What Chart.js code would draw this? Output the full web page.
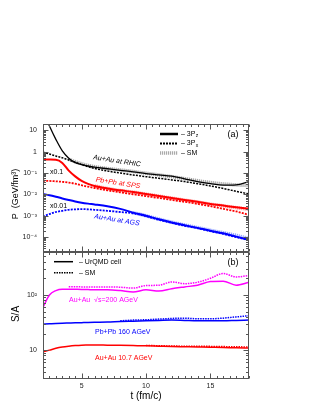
<!DOCTYPE html>
<html><head><meta charset="utf-8">
<script src="https://cdn.jsdelivr.net/npm/chart.js@4"></script>
<style>
html,body{margin:0;padding:0;background:#fff;}
#wrap{position:relative;width:316px;height:409px;overflow:hidden;background:#fff;}
#ca{position:absolute;left:0;top:0;}
#cb{position:absolute;left:0;top:248px;}
</style></head><body>
<div id="wrap"><canvas id="ca" width="316" height="256"></canvas><canvas id="cb" width="316" height="161"></canvas></div>
<script>
// ---- data: time axis (fm/c)
const T = [2,2.5,3,3.5,4,4.5,5,5.5,6,7,8,9,10,11,12,13,14,15,16,17,18];
// Panel (a): pressure, GeV/fm^3
const rhicPz = [80,16,3.8,1.1,0.5,0.31,0.25,0.215,0.19,0.16,0.135,0.115,0.095,0.082,0.072,0.054,0.04,0.032,0.027,0.028,0.04];
const rhicPx = [0.95,0.78,0.63,0.52,0.41,0.32,0.25,0.2,0.165,0.125,0.1,0.082,0.068,0.057,0.048,0.04,0.032,0.025,0.019,0.014,0.0105];
const rhicSM = [null,null,null,null,0.44,0.34,0.275,0.23,0.2,0.165,0.14,0.118,0.098,0.082,0.068,0.055,0.044,0.036,0.031,0.028,0.026];
const spsPz  = [0.44,0.43,0.42,0.3,0.13,0.07,0.043,0.031,0.025,0.019,0.0155,0.013,0.0105,0.0085,0.0068,0.0055,0.0045,0.0036,0.003,0.0025,0.0021];
const spsPx  = [0.044,0.043,0.041,0.039,0.036,0.032,0.027,0.023,0.02,0.0155,0.0125,0.0102,0.0083,0.0068,0.0055,0.0045,0.0036,0.0028,0.0021,0.0016,0.0011];
const spsSM  = [null,null,null,null,null,null,null,null,0.025,0.019,0.0152,0.0128,0.0103,0.0083,0.0067,0.0054,0.0044,0.0035,0.0029,0.0024,0.002];
const agsPz  = [0.0105,0.0092,0.0078,0.0065,0.0055,0.0047,0.0041,0.0037,0.0034,0.0028,0.0021,0.0014,0.001,0.00068,0.00048,0.00036,0.00027,0.0002,0.00015,0.000105,0.000075];
const agsPx  = [0.0009,0.0012,0.0015,0.0017,0.0019,0.002,0.00205,0.002,0.0019,0.0017,0.0015,0.0013,0.00095,0.00065,0.00046,0.00034,0.00026,0.00019,0.00014,0.0001,0.000072];
const agsSM  = [null,null,null,null,null,null,null,null,null,null,null,0.0014,0.001,0.0007,0.0005,0.00037,0.00028,0.00021,0.00016,0.00012,0.000085];
// Panel (b): entropy per baryon S/A
const rhicSA   = [60,100,120,127,127,126.5,126,125,124,124,120,113,124,118,130,140,150,175,178,150,170];
const rhicSAsm = [null,null,null,null,141,141,140,140,139,140,138,133,148,150,172,160,170,200,245,212,225];
const spsSA    = [29.5,30,30.5,30.8,31,31.2,31.5,31.8,32,32.3,33,33.5,34,34.5,35,34.5,34,34,34,34.5,35];
const spsSAsm  = [null,null,null,null,null,null,null,null,null,null,34,35,35.5,36.5,37.5,38,37,37,38,40,42];
const agsSA    = [9.3,10,10.8,11.4,11.8,12.1,12.3,12.35,12.4,12.3,12.2,12.1,12.0,11.8,11.6,11.5,11.4,11.3,11.2,11.0,10.9];
const agsSAsm  = [null,null,null,null,null,null,null,null,null,null,null,null,12.2,12.0,11.9,11.8,11.8,11.7,11.6,11.5,11.4];
// tick values
const xMajor = [5,10,15];
const yTicksA = [1e-4,1e-3,1e-2,1e-1,1,10];
const yTicksB = [10,100];

const SUP = {'-':'\u207B','0':'\u2070','1':'\u00B9','2':'\u00B2','3':'\u00B3','4':'\u2074','5':'\u2075'};
function powLabel(v){
  const e = Math.round(Math.log10(v));
  if (e === 0) return '1';
  if (e === 1) return '10';
  return '10' + String(e).split('').map(c=>SUP[c]).join('');
}
function ser(vals){ return T.map((x,i)=>({x:x,y:vals[i]})).filter(p=>p.y!==null); }
function line(vals,color,width,dash){
  return {data:ser(vals),borderColor:color,borderWidth:width,borderDash:dash||[],pointRadius:0,
          fill:false,cubicInterpolationMode:'monotone',clip:0};
}
const FONT = '"Liberation Sans", "DejaVu Sans", Arial, sans-serif';

function frameTicks(chart){
  const ctx = chart.ctx, a = chart.chartArea, xs = chart.scales.x, ys = chart.scales.y;
  ctx.save();
  ctx.strokeStyle = '#555'; ctx.lineWidth = 1;
  const L = Math.round(a.left)+0.5, R = Math.round(a.right)-0.5, Tp = Math.round(a.top)+0.5, B = Math.round(a.bottom)-0.5;
  ctx.strokeRect(L, Tp, R-L, B-Tp);
  ctx.beginPath();
  for (let t = 2; t <= 18.001; t += 0.5){
    const px = Math.round(xs.getPixelForValue(t))+0.5;
    const len = (Math.abs(t%5) < 1e-6) ? 5 : 2.5;
    ctx.moveTo(px,B); ctx.lineTo(px,B-len);
    ctx.moveTo(px,Tp); ctx.lineTo(px,Tp+len);
  }
  const lo = Math.floor(Math.log10(ys.min)), hi = Math.ceil(Math.log10(ys.max));
  for (let d = lo; d <= hi; d++){
    for (let m = 1; m <= 9; m++){
      const v = m*Math.pow(10,d);
      if (v < ys.min*1.0001 || v > ys.max*0.9999) continue;
      const py = Math.round(ys.getPixelForValue(v))+0.5;
      const len = m===1 ? 5 : 2.5;
      ctx.moveTo(L,py); ctx.lineTo(L+len,py);
      ctx.moveTo(R,py); ctx.lineTo(R-len,py);
    }
  }
  ctx.stroke();
  ctx.restore();
}
function txt(ctx,s,x,y,font,color,align,rot){
  ctx.save(); ctx.translate(x,y); if(rot) ctx.rotate(rot);
  ctx.font = font; ctx.fillStyle = color; ctx.textAlign = align||'left'; ctx.textBaseline = 'middle';
  ctx.fillText(s,0,0); ctx.restore();
}
function subTxt(ctx,s,sub,x,y,size){
  ctx.save(); ctx.font = size+'px '+FONT; ctx.fillStyle='#000'; ctx.textBaseline='middle'; ctx.textAlign='left';
  ctx.fillText(s,x,y); const w = ctx.measureText(s).width;
  ctx.font = (size-2)+'px '+FONT; ctx.fillText(sub,x+w+0.3,y+2); ctx.restore();
}
function legLine(ctx,x0,x1,y,color,width,dash){
  ctx.save(); ctx.strokeStyle=color; ctx.lineWidth=width; ctx.setLineDash(dash||[]);
  ctx.beginPath(); ctx.moveTo(x0,y); ctx.lineTo(x1,y); ctx.stroke(); ctx.restore();
}

const tickFont = {family:FONT,size:7};
function fixY(w){ return function(s){ s.width = w; s.paddingTop = 0; s.paddingBottom = 0; }; }

// ---------- Panel (a)
const annotA = {id:'annotA', afterDraw(chart){
  frameTicks(chart);
  const ctx = chart.ctx;
  const it = 'italic 7px '+FONT;
  txt(ctx,'Au+Au at RHIC',117,161,it,'#000','center',0.15);
  txt(ctx,'Pb+Pb at SPS',118,183,it,'#ff0000','center',0.15);
  txt(ctx,'Au+Au at AGS',117,220,it,'#0000ff','center',0.16);
  txt(ctx,'x0.1',50,172,'7px '+FONT,'#000','left',0);
  txt(ctx,'x0.01',50,206,'7px '+FONT,'#000','left',0);
  txt(ctx,'(a)',233,135,'9px '+FONT,'#000','center',0);
  legLine(ctx,160,178,134,'#000',2.5);
  legLine(ctx,160,178,143.5,'#000',2,[2,1]);
  legLine(ctx,160,178,153,'#aaa',3.5,[1.2,0.8]);
  subTxt(ctx,'\u2013 3P','z',181,134,7);
  subTxt(ctx,'\u2013 3P','x',181,143.5,7);
  txt(ctx,'\u2013 SM',181,153,'7px '+FONT,'#000','left',0);
  txt(ctx,'P  (GeV/fm\u00B3)',16,194,'9px '+FONT,'#000','center',-Math.PI/2);
}};
new Chart(document.getElementById('ca'),{
  type:'line',
  data:{datasets:[
    line(rhicPz,'#000',1.3),
    line(rhicPx,'#000',1.5,[2,1.2]),
    line(spsPz,'#ff0000',2),
    line(spsPx,'#ff0000',1.8,[2,1.2]),
    line(agsPz,'#0000ff',2),
    line(agsPx,'#0000ff',1.8,[2,1.2]),
    line(rhicSM,'rgba(150,150,150,0.85)',3.5,[1.2,0.8]),
    line(spsSM,'rgba(255,130,130,0.85)',3.5,[1.2,0.8]),
    line(agsSM,'rgba(130,150,255,0.85)',3.5,[1.2,0.8])
  ]},
  options:{responsive:false,animation:false,events:[],
    layout:{padding:{top:124,right:67,bottom:4,left:0}},
    plugins:{legend:{display:false},tooltip:{enabled:false}},
    scales:{
      x:{type:'linear',min:2,max:18,display:false},
      y:{type:'logarithmic',min:2e-5,max:20,
         grid:{display:false,drawTicks:false},border:{display:false},
         afterBuildTicks(s){ s.ticks = yTicksA.map(v=>({value:v})); },
         afterFit:fixY(43),
         ticks:{font:tickFont,color:'#222',padding:6,callback:(v)=>powLabel(v)}}
    }},
  plugins:[annotA]
});

// ---------- Panel (b)
const annotB = {id:'annotB', afterDraw(chart){
  frameTicks(chart);
  const ctx = chart.ctx;
  const f = '7px '+FONT;
  txt(ctx,'(b)',233,15,'9px '+FONT,'#000','center',0);
  legLine(ctx,54,73,13.7,'#000',1.5);
  legLine(ctx,54,73,24.7,'#000',1.5,[1.5,1]);
  txt(ctx,'\u2013 UrQMD cell',79,13.7,f,'#000','left',0);
  txt(ctx,'\u2013 SM',79,24.7,f,'#000','left',0);
  txt(ctx,'Au+Au  \u221As=200 AGeV',69,52,f,'#ff00ff','left',0);
  txt(ctx,'Pb+Pb 160 AGeV',95,84,f,'#0000ff','left',0);
  txt(ctx,'Au+Au 10.7 AGeV',95,110,f,'#ff0000','left',0);
  txt(ctx,'S/A',16,66,'10px '+FONT,'#000','center',-Math.PI/2);
  txt(ctx,'t (fm/c)',146,148,'10px '+FONT,'#000','center',0);
}};
new Chart(document.getElementById('cb'),{
  type:'line',
  data:{datasets:[
    line(rhicSA,'#ff00ff',1.5),
    line(spsSA,'#0000ff',1.5),
    line(agsSA,'#ff0000',1.5),
    line(rhicSAsm,'#ff00ff',1.5,[1.5,1]),
    line(spsSAsm,'#0000ff',1.5,[1.5,1]),
    line(agsSAsm,'#ff0000',1.5,[1.5,1])
  ]},
  options:{responsive:false,animation:false,events:[],
    layout:{padding:{top:4,right:67,bottom:0,left:0}},
    plugins:{legend:{display:false},tooltip:{enabled:false}},
    scales:{
      x:{type:'linear',min:2,max:18,
         grid:{display:false,drawTicks:false},border:{display:false},
         afterBuildTicks(s){ s.ticks = xMajor.map(v=>({value:v})); },
         afterFit(s){ s.height = 30; s.paddingLeft = 0; s.paddingRight = 0; },
         ticks:{font:tickFont,color:'#222',padding:3,maxRotation:0}},
      y:{type:'logarithmic',min:3,max:600,
         grid:{display:false,drawTicks:false},border:{display:false},
         afterBuildTicks(s){ s.ticks = yTicksB.map(v=>({value:v})); },
         afterFit:fixY(43),
         ticks:{font:tickFont,color:'#222',padding:6,callback:(v)=>powLabel(v)}}
    }},
  plugins:[annotB]
});
</script>
</body></html>
